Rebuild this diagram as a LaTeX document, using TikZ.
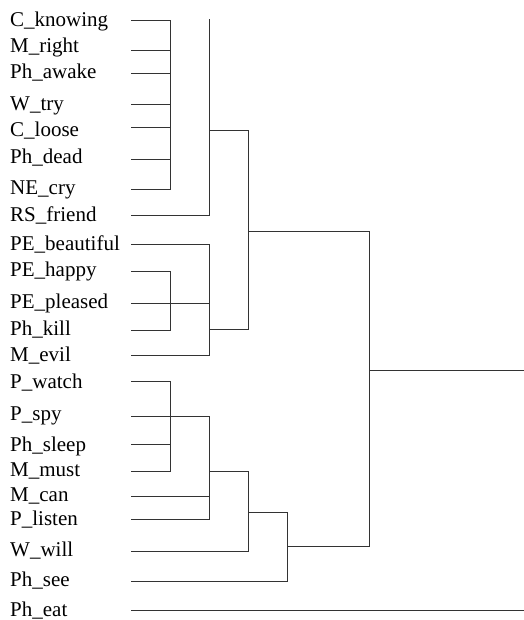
\documentclass[tikz,border=0pt]{standalone}
\usepackage{fontspec}
\setmainfont{Liberation Serif}
\begin{document}
\begin{tikzpicture}[x=1pt,y=-1pt,
  lbl/.style={anchor=base west, inner sep=0pt, font=\fontsize{21}{24}\selectfont},
  ln/.style={line width=1pt, draw=black!80, line cap=rect}]
\useasboundingbox (0,0) rectangle (523,620);
% leaves: id / text / baseline / line y / end x
\foreach \n/\t/\b/\l/\e in {
  1/C\_knowing/26.7/20.7/170,
  2/M\_right/52.7/50.7/170,
  3/Ph\_awake/79/74/170,
  4/W\_try/111/104.3/170,
  5/C\_loose/136.7/127.7/170,
  6/Ph\_dead/164/159.3/170,
  7/NE\_cry/195/190/170,
  8/RS\_friend/221.7/215.7/209,
  9/PE\_beautiful/250/244.3/209,
  10/PE\_happy/276.7/271/170,
  11/PE\_pleased/308.3/303.3/209,
  12/Ph\_kill/335.7/330/170,
  13/M\_evil/361/355/209,
  14/P\_watch/388.3/381.7/170,
  15/P\_spy/420/416.7/209,
  16/Ph\_sleep/451/444/170,
  17/M\_must/476.7/471/170,
  18/M\_can/501/496/209,
  19/P\_listen/525/519.3/209,
  20/W\_will/556.7/551.7/248,
  21/Ph\_see/586.7/581.7/287.3,
  22/Ph\_eat/616/610/523}{
  \node[lbl] (t\n) at (10,\b) {\t};
  \coordinate (s\n) at (131,\l);
  \coordinate (e\n) at (\e,\l);
  \draw[ln] (s\n) -- (e\n);
}
% cluster A
\draw[ln] (e1) -- (e7);
\coordinate (v1top) at (209,20);
\draw[ln] (v1top) -- (e8);
\coordinate (j1) at (209,130.3);
\coordinate (j1r) at (248,130.3);
\draw[ln] (j1) -- (j1r);
% cluster B
\draw[ln] (e10) -- (e12);
\draw[ln] (e9) -- (e13);
\coordinate (j2) at (209,329);
\coordinate (j2r) at (248,329);
\draw[ln] (j2) -- (j2r);
\draw[ln] (j1r) -- (j2r);
\coordinate (j3) at (248,231.6);
\coordinate (j3r) at (369.3,231.6);
\draw[ln] (j3) -- (j3r);
% cluster C
\draw[ln] (e14) -- (e17);
\draw[ln] (e15) -- (e19);
\coordinate (j4) at (209,471.5);
\coordinate (j4r) at (248,471.5);
\draw[ln] (j4) -- (j4r);
\draw[ln] (j4r) -- (e20);
\coordinate (j5) at (248,512);
\coordinate (j5r) at (287.3,512);
\draw[ln] (j5) -- (j5r);
\draw[ln] (j5r) -- (e21);
\coordinate (j6) at (287.3,546);
\coordinate (j6r) at (369.3,546);
\draw[ln] (j6) -- (j6r);
% root
\draw[ln] (j3r) -- (j6r);
\coordinate (r1) at (369.3,370);
\coordinate (r2) at (523,370);
\draw[ln] (r1) -- (r2);
\end{tikzpicture}
\end{document}
